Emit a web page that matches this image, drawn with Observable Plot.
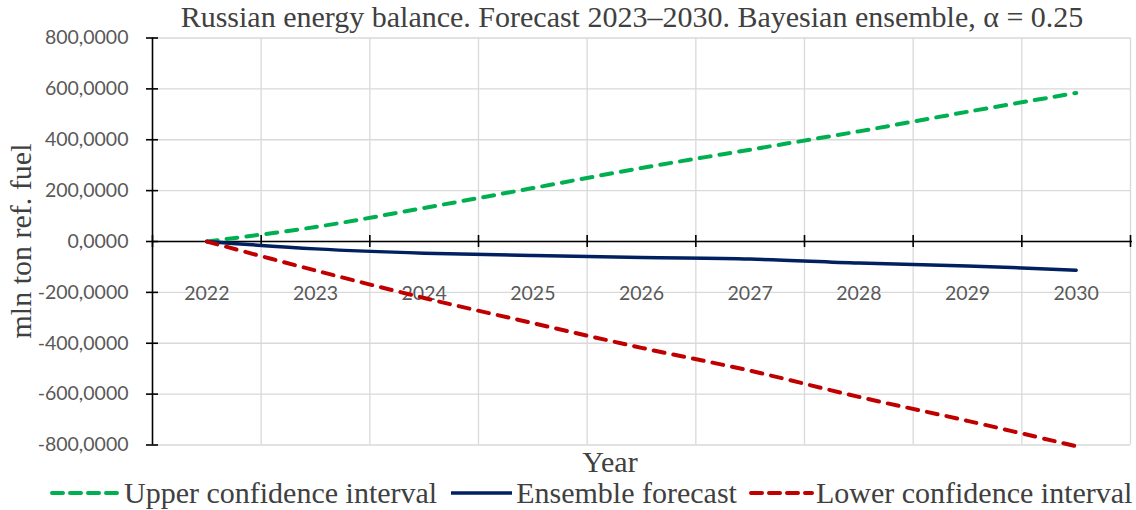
<!DOCTYPE html>
<html>
<head>
<meta charset="utf-8">
<script src="https://cdn.jsdelivr.net/npm/d3@7"></script>
<script src="https://cdn.jsdelivr.net/npm/@observablehq/plot@0.6"></script>
<style>
  html, body { margin: 0; padding: 0; background: #fff; }
  #wrap { position: relative; width: 1136px; height: 510px; overflow: hidden; }
  #chart { position: absolute; left: 0; top: 0; }
  .serif { font-family: "Liberation Serif", "Times New Roman", serif; color: #404040; }
  #title { position: absolute; left: 0; width: 1136px; top: 1px; padding-left: 128px; box-sizing: border-box;
           text-align: center; font-size: 30px; white-space: nowrap; line-height: 32px; }
  #ylabel { position: absolute; left: 21px; top: 241px; font-size: 30px; white-space: nowrap;
            transform: translate(-50%, -50%) rotate(-90deg); line-height: 32px; }
  #xlabel { position: absolute; left: 0; width: 1136px; padding-left: 84px; box-sizing: border-box; top: 446px;
            text-align: center; font-size: 30px; line-height: 32px; }
  #legend { position: absolute; left: 50px; top: 477px; display: flex; align-items: center;
            font-size: 30px; line-height: 32px; white-space: nowrap; }
  #legend .item { display: flex; align-items: center; margin-right: 12px; }
  #legend svg { display: block; margin-right: 2px; }
</style>
</head>
<body>
<div id="wrap">
  <div id="chart"></div>
  <div id="title" class="serif">Russian energy balance. Forecast 2023–2030. Bayesian ensemble, α = 0.25</div>
  <div id="ylabel" class="serif">mln ton ref. fuel</div>
  <div id="xlabel" class="serif">Year</div>
  <div id="legend" class="serif"></div>
</div>
<script>
// Categories and series (mln ton of reference fuel)
const years = ["2022", "2023", "2024", "2025", "2026", "2027", "2028", "2029", "2030"];
const upper = [0, 57, 132, 210, 289, 361, 433, 510, 584];
const ensemble = [0, -29, -46, -55, -63, -69, -85, -96, -113];
const lower = [0, -114, -222, -321, -418, -508, -611, -705, -805];
const yTicks = [-800, -600, -400, -200, 0, 200, 400, 600, 800];

const seriesNames = ["Upper confidence interval", "Ensemble forecast", "Lower confidence interval"];
const seriesColors = ["#00b050", "#002060", "#c00000"];
const swatchWidths = [72, 65, 65];

// Category slots are indexed 0..n-1; gridlines sit on slot boundaries
const edges = d3.range(-0.5, years.length, 1);
const fmt = d => (d < 0 ? "-" : "") + Math.abs(d).toFixed(4).replace(".", ",");

const rows = (vals, name) => vals.map((v, i) => ({i, v, name}));

const dash = {strokeWidth: 4, strokeDasharray: "11,9", strokeLinecap: "round"};
const tickFont = "Lato, 'Open Sans', sans-serif";

const chart = Plot.plot({
  width: 1136,
  height: 455,
  marginLeft: 152,
  marginRight: 6,
  marginTop: 37.5,
  marginBottom: 10.5,
  x: {domain: [-0.5, years.length - 0.5], axis: null},
  y: {domain: [-800, 800], axis: null},
  style: {background: "transparent"},
  marks: [
    Plot.gridY(yTicks, {stroke: "#d9d9d9", strokeOpacity: 1, strokeWidth: 1.3}),
    Plot.gridX(edges.slice(1), {stroke: "#d9d9d9", strokeOpacity: 1, strokeWidth: 1.3}),
    // value axis
    Plot.ruleX([edges[0]], {stroke: "#000", strokeWidth: 1.6}),
    Plot.ruleY(yTicks, {x1: edges[0], x2: edges[0], insetLeft: -6, insetRight: -6, stroke: "#000", strokeWidth: 1.6}),
    Plot.axisY(yTicks, {tickSize: 0, tickPadding: 24, tickFormat: fmt, fontSize: 19.5,
      fontFamily: tickFont, color: "#595959", label: null}),
    // category axis crossing at zero
    Plot.ruleY([0], {stroke: "#000", strokeWidth: 1.6, insetRight: -2}),
    Plot.ruleX(edges, {y1: 0, y2: 0, insetTop: -6, insetBottom: -6, stroke: "#000", strokeWidth: 1.6}),
    Plot.text(years, {x: (d, i) => i, y: 0, dy: 52, text: d => d, fontSize: 19.5,
      fontFamily: tickFont, fill: "#595959"}),
    // series
    Plot.line(rows(upper, seriesNames[0]), {x: "i", y: "v", stroke: seriesColors[0], curve: "catmull-rom", ...dash}),
    Plot.line(rows(ensemble, seriesNames[1]), {x: "i", y: "v", stroke: seriesColors[1], strokeWidth: 3.5, curve: "catmull-rom"}),
    Plot.line(rows(lower, seriesNames[2]), {x: "i", y: "v", stroke: seriesColors[2], curve: "catmull-rom", ...dash})
  ]
});
document.getElementById("chart").appendChild(chart);

// Legend below the chart
const legend = d3.select("#legend");
seriesNames.forEach((name, k) => {
  const item = legend.append("div").attr("class", "item");
  const w = swatchWidths[k];
  const sw = item.append("svg").attr("width", w).attr("height", 10);
  const ln = sw.append("line").attr("x1", 2).attr("x2", w - 2).attr("y1", 5).attr("y2", 5)
    .attr("stroke", seriesColors[k]).attr("stroke-width", k === 1 ? 3.5 : 4);
  if (k !== 1) ln.attr("stroke-dasharray", "11,7").attr("stroke-linecap", "round");
  item.append("span").text(name);
});
</script>
</body>
</html>
